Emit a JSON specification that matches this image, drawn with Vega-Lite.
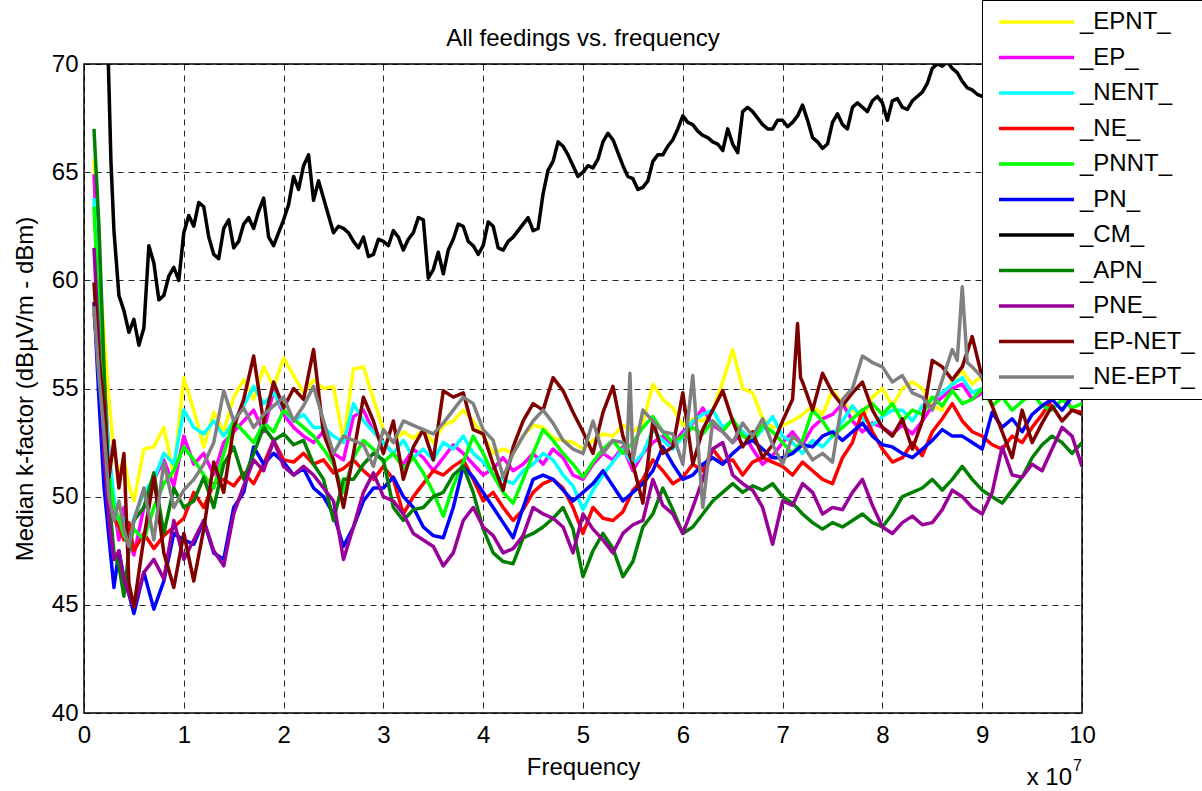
{
"$schema": "https://vega.github.io/schema/vega-lite/v6.json",
"width": 998, "height": 649,
"autosize": {"type": "none"},
"padding": {"left": 84, "top": 64, "right": 120, "bottom": 78},
"background": "white",
"title": {"text": "All feedings vs. frequency", "fontSize": 24, "fontWeight": "normal", "font": "Liberation Sans", "color": "black", "offset": 16, "dy": 86, "baseline": "alphabetic", "anchor": "middle", "frame": "group"},
"config": {
  "view": {"stroke": "black", "strokeWidth": 1.5},
  "font": "Liberation Sans",
  "axis": {"domain": false, "ticks": false, "grid": true, "gridColor": "#000", "gridDash": [6, 5], "gridWidth": 1, "gridOpacity": 0.85, "labelFont": "Liberation Sans", "labelFontSize": 24, "labelColor": "#000", "titleFont": "Liberation Sans", "titleFontSize": 24, "titleFontWeight": "normal", "titleColor": "#000", "labelFlush": false, "labelOverlap": false},
  "axisX": {"labelPadding": 10, "titlePadding": 8},
  "axisY": {"labelPadding": 6, "titlePadding": 14},
  "legend": {"orient": "none", "legendX": 898, "legendY": -64, "strokeColor": "black", "fillColor": "white", "padding": 10, "symbolType": "stroke", "symbolSize": 5625, "symbolStrokeWidth": 3.5, "symbolOffset": 5, "labelFont": "Liberation Sans", "labelFontSize": 24, "labelColor": "black", "clipHeight": 24, "rowPadding": 11.5, "labelOffset": 4, "labelLimit": 300, "cornerRadius": 0}
},
"datasets": {
  "names": [
    {"k": "a", "series": "_EPNT_"}, {"k": "b", "series": "_EP_"}, {"k": "c", "series": "_NENT_"}, {"k": "d", "series": "_NE_"},
    {"k": "e", "series": "_PNNT_"}, {"k": "f", "series": "_PN_"}, {"k": "g", "series": "_CM_"}, {"k": "h", "series": "_APN_"},
    {"k": "i", "series": "_PNE_"}, {"k": "j", "series": "_EP-NET_"}, {"k": "k", "series": "_NE-EPT_"}
  ],
  "note": [{"t": "x 10"}],
  "note2": [{"t": "7"}],
  "curves": [
{"x":0.1,"a":65.6,"b":64.9,"c":63.8,"d":58.5,"e":63.4,"f":59.0,"h":67.0,"i":61.5,"j":59.9,"k":58.8},
{"x":0.15,"a":60.5,"b":59.5,"c":59.0,"d":56.0,"e":58.5,"f":54.5,"h":62.5,"i":57.0,"j":56.3,"k":55.5},
{"x":0.2,"a":57.5,"b":55.5,"c":55.0,"d":53.5,"e":54.0,"f":50.5,"h":56.0,"i":52.0,"j":54.3,"k":53.0},
{"x":0.25,"a":54.5,"b":52.0,"c":52.0,"d":51.0,"e":51.0,"f":48.1,"g":69.0,"h":50.0,"i":48.9,"j":50.9,"k":50.0},
{"x":0.3,"a":52.0,"b":49.5,"c":50.0,"d":49.0,"e":49.5,"f":45.8,"g":62.3,"h":47.4,"i":47.1,"j":52.6,"k":48.9},
{"x":0.35,"a":51.0,"b":48.0,"c":48.5,"d":48.6,"e":49.0,"f":47.5,"g":59.3,"h":46.8,"i":47.5,"j":50.4,"k":49.8},
{"x":0.4,"a":51.8,"b":49.5,"c":49.0,"d":48.0,"e":48.2,"f":46.2,"g":58.6,"h":45.4,"i":46.2,"j":52.0,"k":48.5},
{"x":0.45,"a":50.5,"b":48.0,"c":48.2,"d":48.8,"e":47.8,"f":45.5,"g":57.6,"h":47.5,"i":45.5,"j":46.0,"k":47.7},
{"x":0.5,"a":49.8,"b":47.3,"c":49.0,"d":47.5,"e":48.5,"f":44.6,"g":58.2,"h":48.9,"i":44.9,"j":44.9,"k":48.9},
{"x":0.6,"a":52.2,"b":49.5,"c":50.2,"d":48.3,"e":48.0,"f":46.5,"g":57.8,"h":49.5,"i":46.5,"j":48.1,"k":50.4},
{"x":0.7,"a":52.3,"b":50.8,"c":50.8,"d":47.6,"e":49.5,"f":44.8,"g":60.8,"h":51.1,"i":47.1,"j":50.9,"k":48.0},
{"x":0.8,"a":53.2,"b":51.7,"c":52.0,"d":48.2,"e":50.6,"f":46.1,"g":59.3,"h":48.3,"i":46.2,"j":47.4,"k":51.6},
{"x":0.9,"a":51.0,"b":50.5,"c":51.5,"d":48.6,"e":51.2,"f":48.3,"g":60.6,"h":50.4,"i":48.9,"j":45.8,"k":49.5},
{"x":1.0,"a":55.5,"b":52.8,"c":54.0,"d":49.0,"e":52.3,"f":48.0,"g":62.2,"h":49.5,"i":47.1,"j":48.3,"k":50.3},
{"x":1.1,"a":54.0,"b":51.5,"c":53.2,"d":50.2,"e":51.7,"f":47.8,"g":62.5,"h":49.8,"i":48.0,"j":46.1,"k":50.8},
{"x":1.2,"a":52.3,"b":52.0,"c":52.9,"d":49.5,"e":51.0,"f":48.9,"g":63.4,"h":50.9,"i":48.9,"j":48.5,"k":51.5},
{"x":1.3,"a":53.9,"b":51.0,"c":53.5,"d":50.6,"e":50.4,"f":47.4,"g":61.2,"h":49.5,"i":47.5,"j":51.6,"k":52.5},
{"x":1.4,"a":53.0,"b":52.5,"c":52.8,"d":50.8,"e":52.0,"f":47.1,"g":62.4,"h":51.5,"i":46.8,"j":50.2,"k":54.9},
{"x":1.5,"a":54.6,"b":53.0,"c":53.5,"d":50.5,"e":53.5,"f":49.5,"g":61.5,"h":52.3,"i":49.2,"j":53.2,"k":53.5},
{"x":1.6,"a":55.4,"b":53.5,"c":54.2,"d":51.1,"e":53.0,"f":50.2,"g":62.6,"h":50.8,"i":50.5,"j":54.5,"k":54.1},
{"x":1.7,"a":54.5,"b":54.0,"c":55.1,"d":50.6,"e":52.5,"f":52.3,"g":62.4,"h":52.0,"i":51.7,"j":56.5,"k":53.2},
{"x":1.8,"a":56.0,"b":53.0,"c":54.3,"d":51.5,"e":53.4,"f":51.5,"g":63.8,"h":53.2,"i":51.2,"j":53.4,"k":53.8},
{"x":1.9,"a":55.1,"b":54.9,"c":54.8,"d":52.6,"e":53.0,"f":52.0,"g":61.6,"h":52.6,"i":52.6,"j":55.3,"k":54.2},
{"x":2.0,"a":56.4,"b":53.8,"c":54.0,"d":51.7,"e":54.0,"f":51.6,"g":62.8,"h":52.9,"i":51.4,"j":54.1,"k":54.6},
{"x":2.1,"a":55.6,"b":53.2,"c":53.5,"d":51.6,"e":53.6,"f":51.0,"g":64.8,"h":52.4,"i":51.0,"j":55.0,"k":53.5},
{"x":2.2,"a":54.8,"b":52.8,"c":53.8,"d":52.0,"e":53.2,"f":51.3,"g":65.3,"h":52.6,"i":51.4,"j":54.5,"k":54.2},
{"x":2.3,"a":55.4,"b":52.5,"c":53.2,"d":51.5,"e":52.8,"f":50.4,"g":63.7,"h":51.5,"i":51.0,"j":56.8,"k":55.1},
{"x":2.4,"a":55.0,"b":53.0,"c":53.2,"d":51.7,"e":52.2,"f":50.0,"g":63.8,"h":50.8,"i":50.4,"j":52.9,"k":53.5},
{"x":2.5,"a":55.1,"b":52.0,"c":52.8,"d":51.1,"e":51.5,"f":49.2,"g":62.2,"h":48.9,"i":49.8,"j":51.7,"k":52.0},
{"x":2.6,"a":52.6,"b":51.7,"c":52.5,"d":51.3,"e":50.2,"f":47.7,"g":62.4,"h":50.8,"i":47.1,"j":49.5,"k":52.8},
{"x":2.7,"a":55.9,"b":53.7,"c":54.3,"d":51.7,"e":51.8,"f":48.6,"g":61.8,"h":50.8,"i":48.6,"j":52.0,"k":52.6},
{"x":2.8,"a":56.0,"b":54.0,"c":53.5,"d":51.2,"e":52.6,"f":49.8,"g":62.0,"h":51.5,"i":50.2,"j":54.6,"k":52.4},
{"x":2.9,"a":54.5,"b":53.0,"c":53.0,"d":50.8,"e":52.2,"f":50.4,"g":61.2,"h":52.0,"i":51.1,"j":53.5,"k":51.4},
{"x":3.0,"a":53.1,"b":52.5,"c":52.5,"d":51.4,"e":51.6,"f":50.4,"g":61.8,"h":51.7,"i":50.0,"j":52.0,"k":53.1},
{"x":3.1,"a":52.5,"b":52.0,"c":52.0,"d":50.8,"e":52.0,"f":50.9,"g":62.3,"h":49.5,"i":49.8,"j":53.5,"k":52.5},
{"x":3.2,"a":53.0,"b":51.5,"c":52.6,"d":49.2,"e":51.3,"f":50.0,"g":61.4,"h":48.9,"i":49.2,"j":50.8,"k":53.5},
{"x":3.3,"a":52.7,"b":52.2,"c":51.8,"d":50.0,"e":51.8,"f":49.5,"g":62.2,"h":49.4,"i":48.3,"j":52.3,"k":53.3},
{"x":3.4,"a":53.1,"b":51.8,"c":52.2,"d":50.6,"e":51.1,"f":48.6,"g":62.8,"h":49.5,"i":48.0,"j":53.1,"k":53.1},
{"x":3.5,"a":52.5,"b":51.2,"c":51.7,"d":51.2,"e":50.2,"f":48.2,"g":60.5,"h":50.0,"i":47.7,"j":51.7,"k":52.9},
{"x":3.6,"a":53.3,"b":51.8,"c":52.5,"d":51.0,"e":49.1,"f":48.1,"g":60.3,"h":50.2,"i":46.8,"j":54.9,"k":53.4},
{"x":3.7,"a":53.5,"b":52.4,"c":52.2,"d":51.4,"e":50.5,"f":49.5,"g":61.9,"h":51.0,"i":47.4,"j":54.6,"k":54.0},
{"x":3.8,"a":54.0,"b":52.0,"c":52.8,"d":51.7,"e":51.6,"f":51.4,"g":62.5,"h":51.4,"i":48.9,"j":54.8,"k":54.6},
{"x":3.9,"a":53.5,"b":51.5,"c":52.0,"d":50.8,"e":52.8,"f":50.9,"g":61.6,"h":50.2,"i":49.5,"j":53.1,"k":54.3},
{"x":4.0,"a":52.8,"b":51.0,"c":51.6,"d":49.8,"e":52.0,"f":50.2,"g":61.6,"h":48.5,"i":48.6,"j":52.9,"k":53.1},
{"x":4.1,"a":52.0,"b":51.3,"c":51.0,"d":50.2,"e":51.0,"f":49.5,"g":62.5,"h":47.4,"i":48.2,"j":51.5,"k":52.6},
{"x":4.2,"a":52.2,"b":51.8,"c":50.8,"d":49.5,"e":50.2,"f":48.8,"g":61.4,"h":47.0,"i":47.4,"j":50.3,"k":50.9},
{"x":4.3,"a":52.0,"b":51.2,"c":50.6,"d":48.9,"e":49.7,"f":48.1,"g":62.0,"h":46.9,"i":47.6,"j":52.3,"k":52.0},
{"x":4.4,"a":52.8,"b":51.5,"c":51.2,"d":49.4,"e":50.8,"f":49.5,"g":62.6,"h":48.1,"i":48.2,"j":53.5,"k":52.8},
{"x":4.5,"a":53.3,"b":52.0,"c":51.5,"d":50.2,"e":52.0,"f":50.8,"g":62.3,"h":48.3,"i":49.5,"j":54.3,"k":53.5},
{"x":4.6,"a":53.2,"b":51.5,"c":52.0,"d":50.6,"e":53.1,"f":51.0,"g":64.0,"h":48.6,"i":49.2,"j":54.0,"k":54.0},
{"x":4.7,"a":52.7,"b":52.2,"c":51.7,"d":50.8,"e":52.6,"f":50.8,"g":65.5,"h":49.0,"i":49.0,"j":55.5,"k":53.4},
{"x":4.8,"a":52.6,"b":51.8,"c":51.0,"d":50.4,"e":52.0,"f":50.3,"g":66.2,"h":49.5,"i":48.6,"j":54.9,"k":52.6},
{"x":4.9,"a":52.5,"b":51.0,"c":50.5,"d":49.5,"e":51.5,"f":49.8,"g":65.3,"h":48.5,"i":47.4,"j":53.9,"k":52.2},
{"x":5.0,"a":52.2,"b":50.8,"c":49.4,"d":48.3,"e":50.9,"f":50.2,"g":65.0,"h":46.3,"i":49.2,"j":53.0,"k":52.0},
{"x":5.1,"a":52.6,"b":51.5,"c":50.3,"d":49.5,"e":51.6,"f":50.6,"g":65.2,"h":47.5,"i":48.5,"j":52.0,"k":53.5},
{"x":5.2,"a":52.9,"b":52.0,"c":51.0,"d":49.0,"e":52.2,"f":51.2,"g":66.4,"h":48.3,"i":48.0,"j":53.9,"k":52.0},
{"x":5.3,"a":52.8,"b":51.7,"c":51.6,"d":48.9,"e":52.6,"f":50.5,"g":66.5,"h":47.6,"i":47.4,"j":55.1,"k":52.6},
{"x":5.4,"a":53.3,"b":52.3,"c":52.2,"d":49.3,"e":52.0,"f":49.8,"g":65.3,"h":46.3,"i":48.3,"j":52.8,"k":52.5},
{"x":5.5,"a":53.0,"b":51.2,"c":51.5,"d":50.3,"e":52.5,"f":50.2,"g":64.7,"h":47.0,"i":48.7,"j":51.5,"k":51.7},
{"x":5.6,"a":53.4,"b":52.0,"c":52.0,"d":50.8,"e":53.2,"f":50.6,"g":64.3,"h":48.6,"i":48.9,"j":49.7,"k":54.0},
{"x":5.7,"a":55.2,"b":52.5,"c":53.1,"d":51.7,"e":53.7,"f":51.2,"g":65.5,"h":49.2,"i":50.8,"j":53.5,"k":53.5},
{"x":5.8,"a":54.5,"b":52.8,"c":52.6,"d":51.2,"e":53.0,"f":52.3,"g":65.8,"h":50.4,"i":49.6,"j":52.0,"k":53.0},
{"x":5.9,"a":54.1,"b":52.4,"c":52.2,"d":50.6,"e":52.5,"f":51.5,"g":66.5,"h":49.4,"i":49.2,"j":52.3,"k":52.9},
{"x":6.0,"a":53.3,"b":53.0,"c":52.8,"d":50.9,"e":52.8,"f":50.8,"g":67.6,"h":48.3,"i":48.3,"j":54.8,"k":51.5},
{"x":6.1,"a":53.6,"b":53.4,"c":53.5,"d":51.5,"e":53.2,"f":51.0,"g":67.2,"h":48.6,"i":49.5,"j":51.5,"k":55.6},
{"x":6.2,"a":53.5,"b":54.1,"c":53.8,"d":51.2,"e":52.9,"f":51.5,"g":66.7,"h":49.2,"i":50.8,"j":53.1,"k":49.5},
{"x":6.3,"a":54.0,"b":53.3,"c":54.0,"d":52.2,"e":53.5,"f":51.8,"g":66.4,"h":49.8,"i":52.2,"j":54.0,"k":53.5},
{"x":6.4,"a":55.3,"b":53.0,"c":53.2,"d":51.6,"e":53.0,"f":51.5,"g":66.0,"h":50.2,"i":52.5,"j":54.9,"k":53.0},
{"x":6.5,"a":56.8,"b":52.5,"c":53.5,"d":51.7,"e":53.6,"f":52.0,"g":66.3,"h":50.6,"i":51.0,"j":53.5,"k":52.5},
{"x":6.6,"a":55.0,"b":53.0,"c":53.0,"d":51.0,"e":52.8,"f":52.4,"g":67.8,"h":50.2,"i":50.6,"j":52.3,"k":53.4},
{"x":6.7,"a":54.8,"b":52.2,"c":52.6,"d":51.6,"e":52.6,"f":52.6,"g":67.8,"h":50.5,"i":50.3,"j":53.0,"k":52.8},
{"x":6.8,"a":53.6,"b":51.5,"c":53.1,"d":51.8,"e":53.3,"f":52.2,"g":67.2,"h":50.3,"i":49.5,"j":51.8,"k":53.6},
{"x":6.9,"a":53.2,"b":51.9,"c":53.7,"d":51.6,"e":53.0,"f":51.8,"g":67.0,"h":50.6,"i":47.8,"j":52.4,"k":52.4},
{"x":7.0,"a":53.3,"b":52.5,"c":52.8,"d":51.4,"e":52.5,"f":51.8,"g":67.4,"h":50.0,"i":49.8,"j":53.5,"k":51.5},
{"x":7.1,"a":53.5,"b":53.0,"c":52.5,"d":51.0,"e":52.0,"f":52.0,"g":67.3,"h":49.7,"i":49.6,"j":54.5,"k":52.8},
{"x":7.2,"a":53.8,"b":52.4,"c":52.0,"d":51.6,"e":52.6,"f":52.4,"g":68.1,"h":49.2,"i":50.6,"j":55.3,"k":52.4},
{"x":7.3,"a":54.2,"b":53.2,"c":52.6,"d":51.2,"e":54.0,"f":52.3,"g":66.6,"h":48.8,"i":50.2,"j":54.0,"k":51.7},
{"x":7.4,"a":53.8,"b":53.6,"c":52.3,"d":50.8,"e":53.5,"f":52.8,"g":66.1,"h":48.5,"i":49.2,"j":55.7,"k":52.0},
{"x":7.5,"a":54.9,"b":53.8,"c":52.8,"d":50.6,"e":52.8,"f":53.0,"g":67.3,"h":48.8,"i":49.5,"j":54.8,"k":51.6},
{"x":7.6,"a":54.3,"b":54.3,"c":53.5,"d":51.8,"e":53.2,"f":52.6,"g":67.2,"h":48.6,"i":49.4,"j":54.2,"k":54.5},
{"x":7.7,"a":54.0,"b":53.5,"c":54.2,"d":52.5,"e":53.6,"f":53.0,"g":68.0,"h":48.9,"i":50.2,"j":54.8,"k":55.0},
{"x":7.8,"a":53.6,"b":53.0,"c":53.6,"d":54.0,"e":54.0,"f":53.4,"g":68.0,"h":49.2,"i":50.8,"j":55.3,"k":56.5},
{"x":7.9,"a":54.6,"b":53.4,"c":53.3,"d":53.0,"e":54.3,"f":52.8,"g":68.3,"h":48.8,"i":49.6,"j":54.0,"k":56.2},
{"x":8.0,"a":55.0,"b":53.2,"c":53.7,"d":52.2,"e":53.8,"f":52.4,"g":68.2,"h":48.6,"i":48.6,"j":53.2,"k":56.0},
{"x":8.1,"a":54.2,"b":52.9,"c":54.0,"d":51.6,"e":54.3,"f":52.3,"g":68.3,"h":49.2,"i":48.3,"j":52.8,"k":55.3},
{"x":8.2,"a":55.0,"b":53.3,"c":54.0,"d":51.8,"e":53.5,"f":52.0,"g":68.0,"h":50.0,"i":48.8,"j":53.6,"k":55.6},
{"x":8.3,"a":55.3,"b":52.9,"c":53.5,"d":52.5,"e":54.0,"f":51.8,"g":68.3,"h":50.2,"i":49.1,"j":52.2,"k":54.8},
{"x":8.4,"a":55.0,"b":53.5,"c":54.2,"d":51.9,"e":53.8,"f":52.2,"g":68.7,"h":50.4,"i":48.7,"j":53.5,"k":54.6},
{"x":8.5,"a":54.2,"b":54.2,"c":54.5,"d":53.0,"e":54.6,"f":52.6,"g":69.8,"h":50.8,"i":48.8,"j":56.3,"k":54.0},
{"x":8.6,"a":54.0,"b":54.6,"c":54.8,"d":53.6,"e":54.2,"f":53.1,"g":69.9,"h":50.3,"i":49.4,"j":56.0,"k":55.4},
{"x":8.7,"a":55.4,"b":55.0,"c":55.2,"d":54.3,"e":54.9,"f":52.8,"g":69.8,"h":50.8,"i":50.3,"j":55.4,"k":56.8},
{"x":8.8,"a":55.8,"b":55.2,"c":55.5,"d":53.5,"e":54.3,"f":52.8,"g":69.2,"h":51.4,"i":50.0,"j":56.0,"k":59.7},
{"x":8.9,"a":55.2,"b":54.5,"c":54.8,"d":53.0,"e":54.5,"f":52.5,"g":68.8,"h":50.8,"i":49.5,"j":57.4,"k":56.0},
{"x":9.0,"a":55.6,"b":54.8,"c":55.0,"d":52.8,"e":55.0,"f":52.2,"g":68.5,"h":50.3,"i":49.2,"j":55.5,"k":55.5},
{"x":9.1,"a":55.0,"b":55.2,"c":54.6,"d":52.4,"e":54.2,"f":53.9,"g":68.8,"h":50.0,"i":50.2,"j":54.2,"k":55.0},
{"x":9.2,"a":55.4,"b":54.6,"c":55.2,"d":52.2,"e":54.6,"f":53.2,"g":69.0,"h":49.7,"i":52.3,"j":53.0,"k":55.5},
{"x":9.3,"a":55.8,"b":55.0,"c":55.0,"d":52.8,"e":54.0,"f":53.6,"g":69.3,"h":50.3,"i":51.0,"j":51.8,"k":56.0},
{"x":9.4,"a":55.0,"b":55.5,"c":54.5,"d":52.5,"e":54.4,"f":53.0,"g":69.0,"h":50.9,"i":50.9,"j":54.0,"k":55.2},
{"x":9.5,"a":55.4,"b":54.8,"c":55.1,"d":53.2,"e":54.8,"f":53.8,"g":69.5,"h":51.8,"i":51.5,"j":52.5,"k":55.8},
{"x":9.6,"a":56.0,"b":55.3,"c":55.5,"d":53.8,"e":54.2,"f":54.2,"g":69.8,"h":52.4,"i":51.2,"j":53.4,"k":56.2},
{"x":9.7,"a":55.2,"b":55.7,"c":54.9,"d":54.5,"e":54.0,"f":54.5,"g":69.4,"h":52.8,"i":52.2,"j":54.2,"k":55.5},
{"x":9.8,"a":55.6,"b":55.0,"c":55.3,"d":54.9,"e":54.5,"f":54.0,"g":69.6,"h":52.5,"i":53.2,"j":53.5,"k":55.9},
{"x":9.9,"a":55.5,"b":55.4,"c":55.0,"d":54.0,"e":54.1,"f":54.6,"g":69.9,"h":52.0,"i":52.8,"j":54.0,"k":55.3},
{"x":10.0,"a":55.8,"b":55.6,"c":55.2,"d":53.9,"e":54.3,"f":55.0,"g":69.7,"h":52.5,"i":51.4,"j":53.8,"k":55.6},
{"x":0.235,"g":71.5},{"x":0.27,"g":65.5},{"x":0.33,"g":60.5},{"x":0.55,"g":57.0},{"x":0.65,"g":61.6},{"x":0.75,"g":59.1},{"x":0.85,"g":60.2},{"x":0.95,"g":60.0},
{"x":1.05,"g":63.0},{"x":1.15,"g":63.6},{"x":1.25,"g":62.0},{"x":1.35,"g":61.0},{"x":1.45,"g":62.8},{"x":1.55,"g":61.8},{"x":1.65,"g":62.9},{"x":1.75,"g":63.2},{"x":1.85,"g":62.0},{"x":1.95,"g":62.2},
{"x":2.05,"g":63.5},{"x":2.15,"g":64.2},{"x":2.25,"g":65.8},{"x":2.35,"g":64.6},{"x":2.45,"g":63.0},{"x":2.55,"g":62.5},{"x":2.65,"g":62.2},{"x":2.75,"g":61.5},{"x":2.85,"g":61.1},{"x":2.95,"g":61.9},
{"x":3.05,"g":61.6},{"x":3.15,"g":62.0},{"x":3.25,"g":61.9},{"x":3.35,"g":62.9},{"x":3.45,"g":60.1},{"x":3.55,"g":61.3},{"x":3.65,"g":61.4},{"x":3.75,"g":62.6},{"x":3.85,"g":61.8},{"x":3.95,"g":61.2},
{"x":4.05,"g":62.7},{"x":4.15,"g":61.5},{"x":4.25,"g":61.8},{"x":4.35,"g":62.3},{"x":4.45,"g":62.9},{"x":4.55,"g":62.4},{"x":4.65,"g":65.1},{"x":4.75,"g":66.4},{"x":4.85,"g":65.8},{"x":4.95,"g":64.8},
{"x":5.05,"g":65.3},{"x":5.15,"g":65.6},{"x":5.25,"g":66.8},{"x":5.35,"g":65.9},{"x":5.45,"g":64.8},{"x":5.55,"g":64.2},{"x":5.65,"g":64.6},{"x":5.75,"g":65.8},{"x":5.85,"g":66.2},{"x":5.95,"g":67.0},
{"x":6.05,"g":67.3},{"x":6.15,"g":66.9},{"x":6.25,"g":66.6},{"x":6.35,"g":66.3},{"x":6.45,"g":67.0},{"x":6.55,"g":65.9},{"x":6.65,"g":68.0},{"x":6.75,"g":67.5},{"x":6.85,"g":67.0},{"x":6.95,"g":67.4},
{"x":7.05,"g":67.1},{"x":7.15,"g":67.6,"j":58.0},{"x":7.18,"j":55.5},{"x":7.25,"g":67.4},{"x":7.35,"g":66.4},{"x":7.45,"g":66.3},{"x":7.55,"g":67.7},{"x":7.65,"g":67.0},{"x":7.75,"g":68.2},{"x":7.85,"g":67.8},{"x":7.95,"g":68.5},
{"x":8.05,"g":67.4},{"x":8.15,"g":68.4},{"x":8.25,"g":67.9},{"x":8.35,"g":68.5},{"x":8.45,"g":69.1},{"x":8.55,"g":70.0},{"x":8.65,"g":70.1},{"x":8.75,"g":69.6,"k":56.3},{"x":8.85,"g":68.9,"k":56.2},{"x":8.95,"g":68.6},
{"x":5.44,"k":52.0},{"x":5.47,"k":55.7}
  ]
},
"layer": [
  {
    "data": {"name": "curves"},
    "transform": [
      {"fold": ["a", "b", "c", "d", "e", "f", "g", "h", "i", "j", "k"], "as": ["key", "v"]},
      {"filter": "isValid(datum.v)"},
      {"lookup": "key", "from": {"data": {"name": "names"}, "key": "k", "fields": ["series"]}}
    ],
    "mark": {"type": "line", "clip": true, "strokeJoin": "round", "strokeWidth": 3.5},
    "encoding": {
      "x": {"field": "x", "type": "quantitative", "scale": {"domain": [0, 10], "nice": false, "zero": false},
            "axis": {"title": "Frequency", "values": [0, 1, 2, 3, 4, 5, 6, 7, 8, 9, 10], "format": "d"}},
      "y": {"field": "v", "type": "quantitative", "scale": {"domain": [40, 70], "nice": false, "zero": false},
            "axis": {"title": "Median k-factor (dBµV/m - dBm)", "values": [40, 45, 50, 55, 60, 65, 70], "format": "d"}},
      "color": {"field": "series", "type": "nominal",
                "scale": {"domain": ["_EPNT_", "_EP_", "_NENT_", "_NE_", "_PNNT_", "_PN_", "_CM_", "_APN_", "_PNE_", "_EP-NET_", "_NE-EPT_"],
                          "range": ["#ffff00", "#ff00ff", "#00ffff", "#ff0000", "#00ff00", "#0000ff", "#000000", "#008000", "#990099", "#800000", "#808080"]},
                "legend": {"title": null}}
    }
  },
  {
    "data": {"name": "note"},
    "mark": {"type": "text", "align": "right", "baseline": "alphabetic", "fontSize": 24, "font": "Liberation Sans", "color": "black"},
    "encoding": {
      "x": {"datum": 9.9, "axis": {"title": "Frequency"}},
      "y": {"datum": 36.67, "axis": {"title": "Median k-factor (dBµV/m - dBm)"}},
      "text": {"field": "t"}
    }
  },
  {
    "data": {"name": "note2"},
    "mark": {"type": "text", "align": "left", "baseline": "alphabetic", "fontSize": 16, "font": "Liberation Sans", "color": "black"},
    "encoding": {
      "x": {"datum": 9.91, "axis": {"title": "Frequency"}},
      "y": {"datum": 37.32, "axis": {"title": "Median k-factor (dBµV/m - dBm)"}},
      "text": {"field": "t"}
    }
  }
]
}
